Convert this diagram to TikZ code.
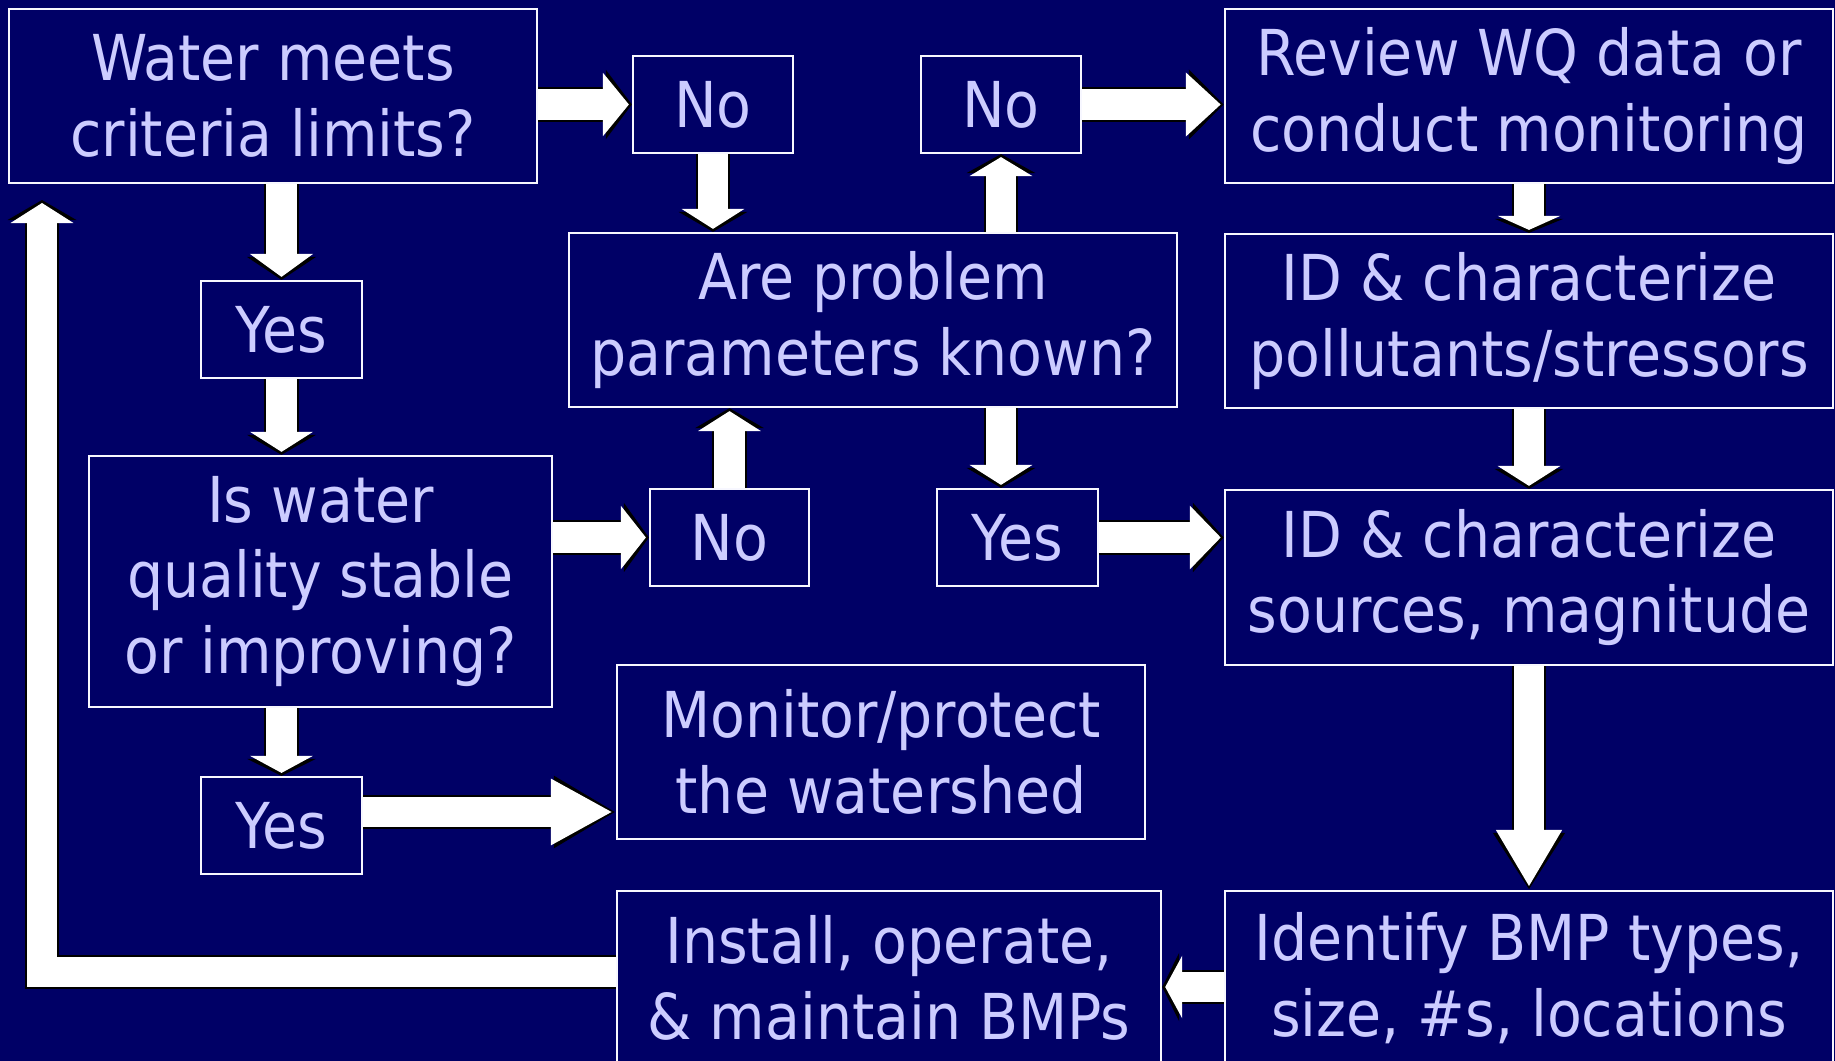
\documentclass[tikz,border=0pt]{standalone}
\usepackage{fontspec}
\setmainfont{DejaVu Sans Condensed}
\usetikzlibrary{arrows.meta}
\definecolor{slidebg}{RGB}{0,0,102}
\definecolor{slidetext}{RGB}{204,204,255}
\tikzset{
  box/.style={draw=white!85!slidetext, line width=0.6pt, fill=slidebg, text=slidetext,
    align=center, inner sep=0pt, font=\fontsize{18}{21.5}\selectfont},
  barrow/.style={draw=black, line width=0.34cm, line join=miter, -{Triangle[width=0.68cm,length=#1]},
    postaction={draw=white, line width=0.30cm, shorten >=0.03cm, -{Triangle[width=0.62cm,length=#1]}}},
  barrow/.default=0.22cm
}
\begin{document}
\begin{tikzpicture}[x=0.01cm, y=-0.01cm]
\fill[slidebg] (0,0) rectangle (1835,1061);
\useasboundingbox (0,0) rectangle (1835,1061);
% left column
\node[box, minimum width=5.28cm, minimum height=1.74cm] (water) at (273,96) {Water meets\\criteria limits?};
\node[box, minimum width=1.61cm, minimum height=0.97cm] (yesA) at (281.5,329.5) {Yes};
\node[box, minimum width=4.63cm, minimum height=2.51cm] (stable) at (320.5,581.5) {Is water\\quality stable\\or improving?};
\node[box, minimum width=1.61cm, minimum height=0.97cm] (yesC) at (281.5,825.5) {Yes};
%
% middle column
\node[box, minimum width=1.60cm, minimum height=0.97cm] (noA) at (713,104.5) {No};
\node[box, minimum width=1.60cm, minimum height=0.97cm] (noB) at (1001,104.5) {No};
\node[box, minimum width=6.08cm, minimum height=1.74cm] (known) at (873,320) {Are problem\\parameters known?};
\node[box, minimum width=1.59cm, minimum height=0.97cm] (noC) at (729.5,537.5) {No};
\node[box, minimum width=1.61cm, minimum height=0.97cm] (yesB) at (1017.5,537.5) {Yes};
\node[box, minimum width=5.28cm, minimum height=1.74cm] (monitor) at (881,752) {Monitor/protect\\the watershed};
\node[box, minimum width=5.44cm, minimum height=1.74cm] (install) at (889,978) {Install, operate,\\\& maintain BMPs};
%
% right column
\node[box, minimum width=6.08cm, minimum height=1.74cm] (review) at (1529,96) {Review WQ data or\\conduct monitoring};
\node[box, minimum width=6.08cm, minimum height=1.74cm] (pollut) at (1529,321) {ID \& characterize\\pollutants/stressors};
\node[box, minimum width=6.08cm, minimum height=1.75cm] (sources) at (1529,577.5) {ID \& characterize\\sources, magnitude};
\node[box, minimum width=6.08cm, minimum height=1.74cm] (bmp) at (1529,978) {Identify BMP types,\\size, \#s, locations};
%
% arrows
\draw[barrow=0.26cm] (water.east |- noA) -- (noA.west);
\draw[barrow=0.20cm] (noA.south) -- (noA.south |- known.north);
\draw[barrow=0.19cm] (noB.south |- known.north) -- (noB.south);
\draw[barrow=0.35cm] (noB.east) -- (noB.east -| review.west);
\draw[barrow=0.14cm] (review.south) -- (pollut.north);
\draw[barrow=0.20cm] (pollut.south) -- (sources.north);
\draw[barrow=0.23cm] (yesA.north |- water.south) -- (yesA.north);
\draw[barrow=0.20cm] (yesA.south) -- (yesA.south |- stable.north);
\draw[barrow=0.25cm] (stable.east |- noC) -- (noC.west);
\draw[barrow=0.20cm] (noC.north) -- (noC.north |- known.south);
\draw[barrow=0.20cm] (noB |- known.south) -- (noB |- yesB.north);
\draw[barrow=0.31cm] (yesB.east) -- (yesB.east -| sources.west);
\draw[barrow=0.17cm] (yesC.north |- stable.south) -- (yesC.north);
\draw[barrow=0.62cm] ([yshift=0.135cm]yesC.east) -- ([yshift=0.135cm]yesC.east -| monitor.west);
\draw[barrow=0.57cm] (sources.south) -- (bmp.north);
\draw[barrow=0.17cm] ([yshift=-0.09cm]bmp.west) -- ([yshift=-0.09cm]bmp.west -| install.east);
%
% back to the start
\coordinate (loopend) at (42,200);
\draw[barrow=0.20cm] ([yshift=0.06cm]install.west) -| (loopend);
\end{tikzpicture}
\end{document}
